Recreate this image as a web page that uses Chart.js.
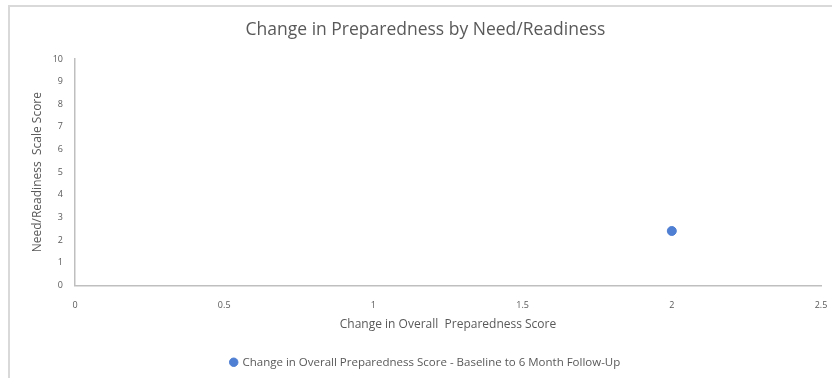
<!DOCTYPE html>
<html>
<head>
<meta charset="utf-8">
<script src="https://cdn.jsdelivr.net/npm/chart.js@4/dist/chart.umd.min.js"></script>
<style>
  html, body { margin: 0; padding: 0; background: #fff; }
  #wrap { position: relative; width: 832px; height: 378px; }
  #frame { position: absolute; left: 8px; top: 5px; right: 0; bottom: 0;
           border-top: 2px solid #d9d9d9; border-left: 2px solid #d9d9d9; }
  canvas { position: absolute; left: 0; top: 0; }
</style>
</head>
<body>
<div id="wrap">
  <div id="frame"></div>
  <canvas id="chart" width="832" height="378"></canvas>
</div>
<script>
// データ
const seriesName = 'Change in Overall Preparedness Score - Baseline to 6 Month Follow-Up';
const xValues = [2];
const yValues = [2.4];
const xTicks = [0, 0.5, 1, 1.5, 2, 2.5];
const yTicks = [0, 1, 2, 3, 4, 5, 6, 7, 8, 9, 10];

const textColor = '#595959';
const fontFamily = "'Open Sans', 'Noto Sans', sans-serif";

const points = xValues.map((x, i) => ({ x: x, y: yValues[i] }));

new Chart(document.getElementById('chart').getContext('2d'), {
  type: 'scatter',
  data: {
    datasets: [{
      label: seriesName,
      data: points,
      backgroundColor: '#4f7fd2',
      borderColor: '#4f7fd2',
      pointRadius: 4.5,
      pointStyle: 'circle'
    }]
  },
  options: {
    responsive: false,
    animation: false,
    devicePixelRatio: 1,
    layout: { padding: { left: 30, right: 11, top: 0, bottom: 0 } },
    plugins: {
      title: {
        display: true,
        text: 'Change in Preparedness by Need/Readiness',
        color: textColor,
        font: { family: fontFamily, size: 17.5, weight: 'normal' },
        padding: { top: 20, bottom: 18 }
      },
      legend: {
        position: 'bottom',
        labels: {
          usePointStyle: true,
          boxWidth: 6,
          boxHeight: 6,
          padding: 8,
          color: textColor,
          font: { family: fontFamily, size: 11.5 }
        }
      },
      tooltip: { enabled: false }
    },
    scales: {
      x: {
        type: 'linear',
        min: 0,
        max: 2.5,
        afterBuildTicks: s => { s.ticks = xTicks.map(v => ({ value: v })); },
        afterFit: s => { s.height -= 19; s.paddingLeft = 0; s.paddingRight = 0; },
        grid: { display: false, drawTicks: false },
        border: { display: true, color: '#bfbfbf', width: 1.5 },
        ticks: {
          color: textColor,
          padding: 15,
          maxRotation: 0,
          font: { family: fontFamily, size: 9 },
          callback: v => String(v)
        },
        title: {
          display: true,
          text: 'Change in Overall  Preparedness Score',
          color: textColor,
          font: { family: fontFamily, size: 12 },
          padding: { top: 10, bottom: 17 }
        }
      },
      y: {
        type: 'linear',
        min: 0,
        max: 10,
        afterBuildTicks: s => { s.ticks = yTicks.map(v => ({ value: v })); },
        afterFit: s => { s.width = 45; },
        grid: { display: false, drawTicks: false },
        border: { display: true, color: '#bfbfbf', width: 1.5 },
        ticks: {
          color: textColor,
          padding: 12,
          font: { family: fontFamily, size: 9 }
        },
        title: {
          display: true,
          text: 'Need/Readiness  Scale Score',
          color: textColor,
          font: { family: fontFamily, size: 12 },
          padding: { top: 0, bottom: 0 }
        }
      }
    }
  }
});
</script>
</body>
</html>
